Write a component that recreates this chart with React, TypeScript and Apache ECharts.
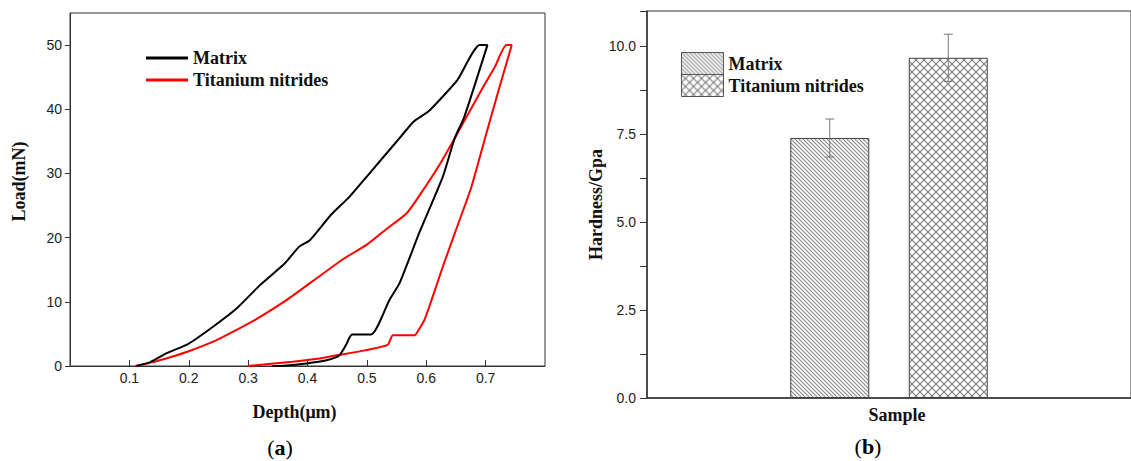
import React, { useEffect, useRef } from 'react';
import * as echarts from 'echarts';

// ---------- (a) load-depth curves ----------
const matrixDepth = [0.112, 0.135, 0.163, 0.2, 0.242, 0.281, 0.32, 0.362, 0.386, 0.404, 0.44, 0.471, 0.507, 0.543, 0.555, 0.579, 0.603, 0.622, 0.652, 0.69, 0.703, 0.664, 0.648, 0.628, 0.588, 0.555, 0.538, 0.507, 0.475, 0.465, 0.453, 0.432, 0.398, 0.36, 0.34];
const matrixLoad = [0, 0.6, 2.0, 3.5, 6.2, 9.0, 12.6, 16.0, 18.6, 19.6, 23.6, 26.4, 30.3, 34.2, 35.5, 38.1, 39.6, 41.4, 44.5, 50, 50, 38.8, 35.5, 29.5, 20.7, 12.9, 10.3, 4.9, 4.9, 3.3, 1.6, 0.9, 0.4, 0.05, 0];
const tinDepth = [0.11, 0.14, 0.17, 0.2, 0.246, 0.28, 0.314, 0.362, 0.41, 0.459, 0.5, 0.531, 0.567, 0.591, 0.62, 0.648, 0.672, 0.693, 0.715, 0.735, 0.744, 0.722, 0.699, 0.676, 0.652, 0.628, 0.609, 0.597, 0.585, 0.581, 0.544, 0.535, 0.483, 0.451, 0.423, 0.375, 0.299];
const tinLoad = [0, 0.6, 1.4, 2.3, 4.0, 5.6, 7.3, 10.1, 13.3, 16.6, 18.9, 21.2, 23.8, 26.9, 31.0, 35.5, 39.5, 43.0, 46.5, 50, 50, 43.0, 35.5, 27.9, 21.7, 15.5, 10.3, 7.2, 5.3, 4.8, 4.8, 3.3, 2.2, 1.7, 1.2, 0.67, 0];
const curveNames = ['Matrix', 'Titanium nitrides'];
const curveColors = ['#000000', '#ff0000'];

// ---------- (b) hardness ----------
const sampleCategories = ['Sample'];
const hardnessNames = ['Matrix', 'Titanium nitrides'];
const hardness = [7.39, 9.67];
const hardnessErr = [0.54, 0.67];

const BAR_W = 79;
const BAR_GAP = 0.5;

const svgUrl = (s: string) => 'data:image/svg+xml;charset=utf-8,' + encodeURIComponent(s);
const hatchImg = svgUrl(
  "<svg xmlns='http://www.w3.org/2000/svg' width='4' height='4'><rect width='4' height='4' fill='#ffffff'/><path d='M-1,-1L5,5M-1,3L1,5M3,-1L5,1' stroke='#8a8a8a' stroke-width='1.1' fill='none'/></svg>"
);
const crossImg = svgUrl(
  "<svg xmlns='http://www.w3.org/2000/svg' width='8' height='8'><rect width='8' height='8' fill='#ffffff'/><path d='M-1,-1L9,9M9,-1L-1,9' stroke='#7a7a7a' stroke-width='1.1' fill='none'/></svg>"
);
const patterns: any[] = [
  { image: hatchImg, repeat: 'repeat', imageWidth: 4, imageHeight: 4 },
  { image: crossImg, repeat: 'repeat', imageWidth: 8, imageHeight: 8 },
];

const SANS = "'Liberation Sans', Arial, sans-serif";
const SERIF = "'Liberation Serif', 'Times New Roman', serif";
const SUFFIX = ' (hardness)';

export default function App() {
  const ref = useRef<HTMLDivElement>(null);
  useEffect(() => {
    if (!ref.current) return;
    const chart = echarts.init(ref.current, undefined, { renderer: 'svg' });

    const lineSeries = [
      { depth: matrixDepth, load: matrixLoad },
      { depth: tinDepth, load: tinLoad },
    ].map((c, i) => ({
      type: 'line',
      name: curveNames[i],
      xAxisIndex: 0,
      yAxisIndex: 0,
      showSymbol: false,
      symbol: 'none',
      smooth: 0.2,
      color: curveColors[i],
      lineStyle: { width: 2, color: curveColors[i] },
      data: c.depth.map((d, k) => [d, c.load[k]]),
      z: i === 0 ? 3 : 2,
    }));

    const barSeries = hardnessNames.map((n, i) => ({
      type: 'bar',
      name: n + SUFFIX,
      xAxisIndex: 1,
      yAxisIndex: 1,
      barWidth: BAR_W,
      barGap: BAR_GAP * 100 + '%',
      itemStyle: { color: patterns[i], borderColor: '#444', borderWidth: 1 },
      data: [hardness[i]],
    }));

    const errSeries = {
      type: 'custom',
      name: 'err',
      xAxisIndex: 1,
      yAxisIndex: 1,
      z: 10,
      data: hardness.map((v, i) => [0, v, hardnessErr[i], i]),
      encode: { x: 0, y: 1 },
      renderItem: (params: any, api: any) => {
        const v = api.value(1);
        const e = api.value(2);
        const idx = api.value(3);
        const center = api.coord([0, v])[0];
        const half = (BAR_W + BAR_W * BAR_GAP) / 2;
        const x = center + (idx === 0 ? -half : half);
        const yTop = api.coord([0, v + e])[1];
        const yBot = api.coord([0, v - e])[1];
        const cap = 4.5;
        const style = { stroke: '#777', lineWidth: 1 };
        return {
          type: 'group',
          children: [
            { type: 'line', shape: { x1: x, y1: yTop, x2: x, y2: yBot }, style },
            { type: 'line', shape: { x1: x - cap, y1: yTop, x2: x + cap, y2: yTop }, style },
            { type: 'line', shape: { x1: x - cap, y1: yBot, x2: x + cap, y2: yBot }, style },
          ],
        };
      },
    };

    const option: any = {
      animation: false,
      backgroundColor: '#ffffff',
      grid: [
        { left: 70, top: 13, width: 475, height: 353, show: true, borderColor: '#333', borderWidth: 1, backgroundColor: 'transparent' },
        { left: 647, top: 11, width: 490, height: 387, show: true, borderColor: '#333', borderWidth: 1, backgroundColor: 'transparent' },
      ],
      legend: [
        {
          data: curveNames,
          orient: 'vertical',
          left: 146,
          top: 48,
          padding: 0,
          itemGap: 2,
          itemWidth: 42,
          itemHeight: 3,
          icon: 'rect',
          selectedMode: false,
          textStyle: { fontFamily: SERIF, fontWeight: 'bold', fontSize: 18, color: '#111', lineHeight: 20 },
        },
        {
          data: hardnessNames.map((n) => n + SUFFIX),
          orient: 'vertical',
          left: 681,
          top: 52,
          padding: 0,
          itemGap: -1,
          itemWidth: 42,
          itemHeight: 22,
          icon: 'rect',
          selectedMode: false,
          itemStyle: { borderColor: '#555', borderWidth: 1 },
          formatter: (name: string) => name.replace(SUFFIX, ''),
          textStyle: { fontFamily: SERIF, fontWeight: 'bold', fontSize: 18, color: '#111', lineHeight: 20 },
        },
      ],
      xAxis: [
        {
          type: 'value',
          gridIndex: 0,
          min: 0,
          max: 0.8,
          interval: 0.1,
          name: 'Depth(μm)',
          nameLocation: 'middle',
          nameGap: 37,
          nameTextStyle: { fontFamily: SERIF, fontWeight: 'bold', fontSize: 18, color: '#111', padding: [0, 26, 0, 0] },
          axisLine: { show: true, lineStyle: { color: '#333', width: 1 } },
          axisTick: { show: true, inside: true, length: 6, lineStyle: { color: '#333' } },
          axisLabel: {
            showMinLabel: false,
            showMaxLabel: false,
            margin: 5,
            fontFamily: SANS,
            fontSize: 14,
            color: '#222',
            formatter: (v: number) => v.toFixed(1),
          },
          splitLine: { show: false },
        },
        {
          type: 'category',
          gridIndex: 1,
          data: sampleCategories,
          name: 'Sample',
          nameLocation: 'middle',
          nameGap: 8,
          nameTextStyle: { fontFamily: SERIF, fontWeight: 'bold', fontSize: 18, color: '#111', padding: [0, 0, 0, 16] },
          axisLine: { show: true, lineStyle: { color: '#333', width: 1.5 } },
          axisTick: { show: false },
          axisLabel: { show: false },
          splitLine: { show: false },
        },
      ],
      yAxis: [
        {
          type: 'value',
          gridIndex: 0,
          min: 0,
          max: 55,
          interval: 10,
          name: 'Load(mN)',
          nameLocation: 'middle',
          nameGap: 42,
          nameTextStyle: { fontFamily: SERIF, fontWeight: 'bold', fontSize: 18, color: '#111', padding: [0, 0, 0, 16] },
          axisLine: { show: true, lineStyle: { color: '#333', width: 1 } },
          axisTick: { show: true, inside: false, length: 5, lineStyle: { color: '#333' } },
          axisLabel: { showMaxLabel: false, margin: 8, fontFamily: SANS, fontSize: 14, color: '#222' },
          splitLine: { show: false },
        },
        {
          type: 'value',
          gridIndex: 1,
          min: 0,
          max: 11,
          interval: 2.5,
          name: 'Hardness/Gpa',
          nameLocation: 'middle',
          nameGap: 39,
          nameTextStyle: { fontFamily: SERIF, fontWeight: 'bold', fontSize: 18, color: '#111' },
          axisLine: { show: true, lineStyle: { color: '#333', width: 1.5 } },
          axisTick: { show: true, inside: false, length: 7, lineStyle: { color: '#333' } },
          minorTick: { show: true, splitNumber: 2, length: 7, lineStyle: { color: '#333' } },
          axisLabel: {
            showMaxLabel: false,
            margin: 11,
            fontFamily: SANS,
            fontSize: 14,
            color: '#222',
            formatter: (v: number) => v.toFixed(1),
          },
          splitLine: { show: false },
          minorSplitLine: { show: false },
        },
      ],
      graphic: [
        {
          type: 'text',
          x: 280,
          y: 447,
          style: {
            text: '{p|(}{b|a}{p|)}',
            align: 'center',
            verticalAlign: 'middle',
            rich: {
              p: { fontFamily: SERIF, fontSize: 22, color: '#111' },
              b: { fontFamily: SERIF, fontSize: 22, fontWeight: 'bold', color: '#111' },
            },
          },
        },
        {
          type: 'text',
          x: 868,
          y: 446,
          style: {
            text: '{p|(}{b|b}{p|)}',
            align: 'center',
            verticalAlign: 'middle',
            rich: {
              p: { fontFamily: SERIF, fontSize: 22, color: '#111' },
              b: { fontFamily: SERIF, fontSize: 22, fontWeight: 'bold', color: '#111' },
            },
          },
        },
      ],
      series: [...lineSeries, ...barSeries, errSeries],
    };
    chart.setOption(option);
    return () => chart.dispose();
  }, []);

  return (
    <div
      ref={ref}
      style={{ position: 'fixed', left: 0, top: 0, width: 1131, height: 461, background: '#fff', overflow: 'hidden' }}
    />
  );
}
